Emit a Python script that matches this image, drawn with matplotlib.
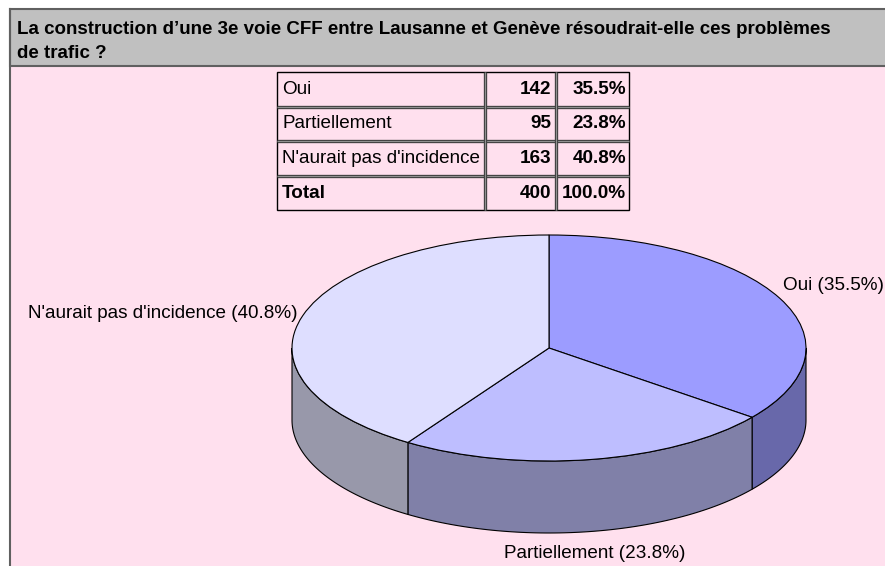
import numpy as np
import matplotlib.pyplot as plt
from matplotlib.patches import Wedge, Polygon, Rectangle

plt.rcParams['font.family'] = ['Liberation Sans', 'DejaVu Sans']

title_lines = ["La construction d\u2019une 3e voie CFF entre Lausanne et Gen\u00e8ve r\u00e9soudrait-elle ces probl\u00e8mes",
               "de trafic ?"]
categories = ['Oui', 'Partiellement', "N'aurait pas d'incidence"]
counts = [142, 95, 163]
total = sum(counts)
pcts = [100.0 * c / total for c in counts]

top_colors = ['#9c9cff', '#bebeff', '#dedeff']
side_colors = ['#6868aa', '#8080a8', '#9898aa']
fs = 13.6

fig = plt.figure(figsize=(8.85, 5.66), dpi=100)
bg = fig.add_axes([0, 0, 1, 1])
bg.set_xlim(0, 885)
bg.set_ylim(566, 0)
bg.axis('off')

# background panels
bg.add_patch(Rectangle((10, 67), 880, 510, facecolor='#ffe0ee', edgecolor='none'))
bg.add_patch(Rectangle((10, 9), 880, 57, facecolor='#c0c0c0', edgecolor='#606060', lw=1.5))
bg.plot([10, 10], [9, 566], color='#606060', lw=1.5)
for ty, line in zip([30, 53], title_lines):
    bg.text(17, ty, line, fontsize=13.5, fontweight='bold', va='center', ha='left')

# table
col_x = [277, 485, 556, 629]
row_y = [72, 107, 141, 176, 210]
rows = [(cat, str(c), f'{p:.1f}%') for cat, c, p in zip(categories, counts, pcts)]
rows.append(('Total', str(total), f'{100.0:.1f}%'))
for i, (lab, n, p) in enumerate(rows):
    yc = (row_y[i] + row_y[i + 1]) / 2
    bold = 'bold' if lab == 'Total' else 'normal'
    bg.text(col_x[0] + 5, yc, lab, fontsize=fs, fontweight=bold, va='center', ha='left')
    bg.text(col_x[2] - 5, yc, n, fontsize=fs, fontweight='bold', va='center', ha='right')
    bg.text(col_x[3] - 3, yc, p, fontsize=fs, fontweight='bold', va='center', ha='right')
for y in row_y[1:-1]:
    bg.plot([col_x[0], col_x[-1]], [y, y], color='#444444', lw=2.4, solid_capstyle='butt')
    bg.plot([col_x[0], col_x[-1]], [y, y], color='#a0a0a0', lw=0.6, solid_capstyle='butt')
for x in col_x[1:-1]:
    bg.plot([x, x], [row_y[0], row_y[-1]], color='#444444', lw=2.4, solid_capstyle='butt')
    bg.plot([x, x], [row_y[0], row_y[-1]], color='#a0a0a0', lw=0.6, solid_capstyle='butt')
bg.add_patch(Rectangle((col_x[0], row_y[0]), col_x[-1] - col_x[0], row_y[-1] - row_y[0],
                       facecolor='none', edgecolor='black', lw=1.0))

# 3d pie: unit circle in an axes stretched to an ellipse
cx, cy, a, b, depth_px = 549, 348, 257, 113, 72
depth = depth_px / b
ax = fig.add_axes([(cx - a) / 885, 1 - (cy + b + depth_px) / 566,
                   2 * a / 885, (2 * b + depth_px) / 566])
ax.set_xlim(-1, 1)
ax.set_ylim(-1 - depth, 1)
ax.axis('off')

fracs = np.array(counts) / total
ends = 90 - 360 * np.cumsum(fracs)
starts = np.concatenate([[90], ends[:-1]])

# sides (front half only, angles between -180 and 0)
for s, e, col in zip(starts, ends, side_colors):
    hi = min(s, 0)
    lo = max(e, -180)
    if hi <= lo:
        continue
    t = np.radians(np.linspace(hi, lo, 80))
    xs, ys = np.cos(t), np.sin(t)
    pts = np.concatenate([np.column_stack([xs, ys]),
                          np.column_stack([xs[::-1], ys[::-1] - depth])])
    ax.add_patch(Polygon(pts, closed=True, facecolor=col, edgecolor='black',
                         lw=0.8, clip_on=False))

# tops
for s, e, col in zip(starts, ends, top_colors):
    ax.add_patch(Wedge((0, 0), 1, e, s, facecolor=col, edgecolor='black',
                       lw=0.8, clip_on=False))

# labels
label_pos = [(783, 286, 'left'), (595, 554, 'center'), (298, 314, 'right')]
for (lx, ly, ha), cat, p in zip(label_pos, categories, pcts):
    bg.text(lx, ly, f'{cat} ({p:.1f}%)', fontsize=fs, ha=ha, va='center')

fig.savefig('out.png', dpi=100)
